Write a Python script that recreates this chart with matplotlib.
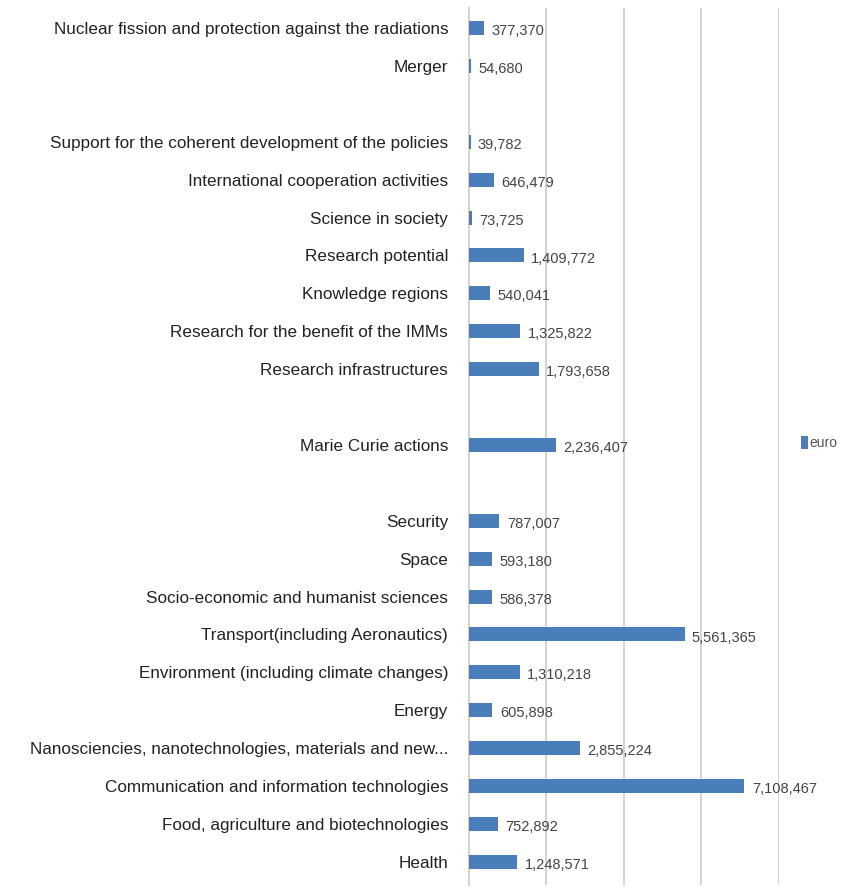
import matplotlib
matplotlib.use("Agg")
import numpy as np
from matplotlib import pyplot as plt
from matplotlib.patches import Patch

# FP7 participation by theme (euro), listed bottom to top
categories = [
    "Health",
    "Food, agriculture and biotechnologies",
    "Communication and information technologies",
    "Nanosciencies, nanotechnologies, materials and new...",
    "Energy",
    "Environment (including climate changes)",
    "Transport(including Aeronautics)",
    "Socio-economic and humanist sciences",
    "Space",
    "Security",
    "Marie Curie actions",
    "Research infrastructures",
    "Research for the benefit of the IMMs",
    "Knowledge regions",
    "Research potential",
    "Science in society",
    "International cooperation activities",
    "Support for the coherent development of the policies",
    "Merger",
    "Nuclear fission and protection against the radiations",
]
euro = [
    1248571, 752892, 7108467, 2855224, 605898, 1310218, 5561365, 586378,
    593180, 787007, 2236407, 1793658, 1325822, 540041, 1409772, 73725,
    646479, 39782, 54680, 377370,
]
programme = (["Cooperation"] * 10 + ["People"] + ["Capacities"] * 7
             + ["Euratom"] * 2)
series_name = "euro"

BAR_COLOR = "#4a7ebb"
GRID_COLOR = "#d4d4d4"
FONT = ["Liberation Sans", "DejaVu Sans"]

# one empty slot between programmes
pos = []
slot = 0
for i, p in enumerate(programme):
    if i > 0 and p != programme[i - 1]:
        slot += 1
    pos.append(slot)
    slot += 1
pos = np.array(pos)

fig = plt.figure(figsize=(8.45, 8.88), dpi=100)
ax = fig.add_axes([469 / 845, 3 / 888, 310 / 845, 877 / 888])

ax.barh(pos, euro, height=0.37, color=BAR_COLOR, zorder=3, label=series_name)

for y, v in zip(pos, euro):
    ax.text(v + 190000, y - 0.08, f"{v:,}", va="center", ha="left",
            fontsize=10.5, color="#444444", family=FONT)

ax.set_xlim(0, 8000000)
ax.set_ylim(-0.61, pos.max() + 0.53)
ax.set_xticks(np.arange(0, 8000001, 2000000))
ax.set_xticklabels([])
ax.tick_params(axis="x", length=0)
ax.grid(axis="x", color=GRID_COLOR, linewidth=1.5, zorder=0)

ax.set_yticks(pos)
ax.set_yticklabels(categories, fontsize=12.3, color="#222222", family=FONT)
ax.tick_params(axis="y", length=0, pad=15)

for side in ["top", "right", "bottom"]:
    ax.spines[side].set_visible(False)
ax.spines["left"].set_color(GRID_COLOR)
ax.spines["left"].set_linewidth(1.5)

handle = Patch(facecolor=BAR_COLOR, label=series_name)
leg = fig.legend(handles=[handle], loc="center left",
                 bbox_to_anchor=(798 / 845, 1 - 443 / 888), frameon=False,
                 handlelength=0.5, handleheight=1.1, handletextpad=0.15,
                 borderaxespad=0.0, borderpad=0.2,
                 prop={"family": FONT, "size": 10})
for t in leg.get_texts():
    t.set_color("#555555")

fig.savefig("out.png", dpi=100)
